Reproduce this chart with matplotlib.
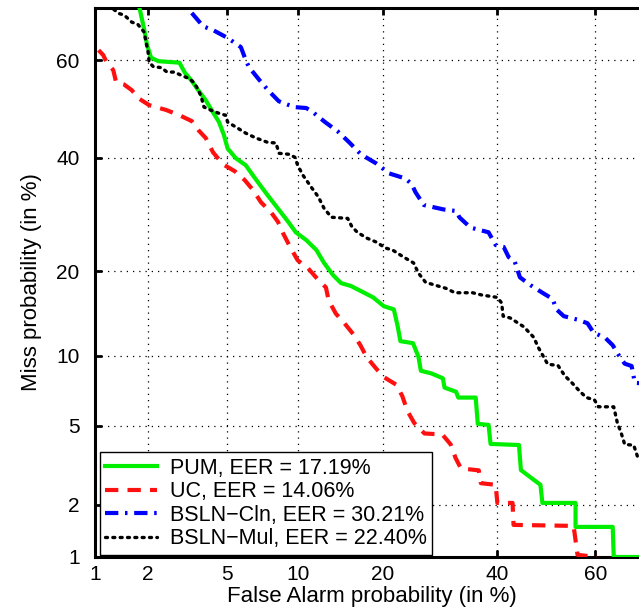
import math
import numpy as np
import matplotlib
matplotlib.use("Agg")
import matplotlib.pyplot as plt
from matplotlib.ticker import NullLocator

# ---------------- data (percent) ----------------
pum_far = [1.75, 1.8, 1.91, 1.98, 2.08, 2.28, 2.93, 3.12, 3.38, 3.65, 3.96, 4.29, 4.58, 4.83, 5.02,
           5.48, 6.07, 6.53, 7.07, 7.64, 8.42, 9.17, 9.83, 10.8, 11.8, 12.6, 13.6, 14.5, 15.7,
           17.2, 18.6, 20.1, 21.6, 22.2, 22.6, 24.6, 25.5, 25.9, 27.6, 29.7, 30.0, 32.1, 32.5,
           35.8, 36.2, 38.3, 38.7, 44.4, 44.8, 48.8, 49.2, 56.0, 56.0, 63.4, 63.6, 80.0]
pum_miss = [75.0, 70.0, 66.0, 63.0, 60.5, 59.8, 59.5, 57.5, 55.8, 53.8, 51.8, 49.3, 47.3, 44.6, 41.9,
            39.9, 38.5, 36.5, 34.4, 32.4, 30.0, 27.9, 26.1, 24.8, 23.2, 21.2, 19.4, 18.3, 17.9,
            17.1, 16.4, 15.3, 14.9, 12.9, 11.4, 11.2, 9.9, 8.7, 8.5, 8.1, 7.4, 7.1, 6.7,
            6.7, 5.1, 5.05, 4.1, 4.05, 3.04, 2.55, 2.04, 2.04, 1.5, 1.5, 1.0, 1.0]

uc_far = [1.05, 1.12, 1.17, 1.28, 1.33, 1.47, 1.63, 1.78, 2.03, 2.5, 2.93, 3.38, 3.65, 3.96, 4.29,
          4.78, 5.43, 6.0, 6.53, 7.07, 7.79, 8.33, 8.75, 9.33, 10.0, 10.98, 11.76, 12.8, 13.1,
          13.9, 14.9, 16.0, 16.9, 17.7, 19.0, 20.1, 22.0, 22.9, 23.7, 24.8, 26.5, 29.6, 31.1,
          32.0, 33.0, 36.4, 36.8, 39.7, 40.05, 43.1, 43.3, 55.6, 56.4, 60.3]
uc_miss = [62.0, 61.0, 59.6, 58.0, 55.5, 55.1, 53.9, 52.2, 50.8, 49.8, 48.7, 47.5, 45.6, 44.0, 41.1,
           38.7, 37.3, 35.6, 33.7, 31.4, 29.6, 27.9, 25.9, 23.7, 21.6, 20.4, 19.1, 17.7, 16.0,
           14.4, 13.3, 12.1, 11.0, 9.9, 8.9, 8.2, 7.6, 6.8, 5.85, 5.15, 4.6, 4.55, 4.08,
           3.5, 3.1, 3.03, 2.6, 2.55, 2.04, 2.04, 1.54, 1.52, 1.03, 1.0]

cln_far = [3.38, 3.85, 4.29, 5.02, 5.77, 6.07, 6.27, 6.87, 7.57, 8.4, 9.67, 10.8, 11.47, 12.7, 14.1,
           15.5, 16.96, 19.0, 20.9, 23.4, 24.4, 25.0, 26.4, 29.8, 32.2, 32.7, 34.8, 38.3, 39.7,
           41.3, 42.3, 43.5, 44.6, 46.8, 49.2, 51.3, 52.1, 53.6, 56.4, 58.4, 59.6, 62.0, 63.4,
           64.5, 65.7, 67.0, 67.6, 69.6, 80.0]
cln_miss = [69.1, 66.6, 65.9, 64.4, 62.6, 60.0, 58.6, 56.3, 53.9, 51.6, 50.4, 50.2, 49.3, 47.3, 45.4,
            43.1, 40.7, 38.9, 36.9, 35.9, 34.8, 33.3, 30.9, 30.1, 29.8, 28.7, 26.9, 26.1, 24.0,
            23.7, 22.1, 21.5, 19.1, 18.0, 17.0, 16.2, 14.9, 14.1, 13.7, 13.3, 12.3, 11.7, 11.0,
            10.1, 9.3, 9.1, 7.75, 7.7, 7.6]

mul_far = [1.1, 1.17, 1.27, 1.38, 1.48, 1.63, 1.76, 1.91, 1.96, 2.0, 2.03, 2.14, 2.36, 2.53, 2.77,
           2.97, 3.27, 3.46, 3.65, 3.77, 3.88, 4.19, 4.58, 4.92, 5.02, 5.6, 6.07, 6.73, 7.57,
           8.17, 8.42, 9.25, 9.75, 10.0, 10.5, 11.3, 12.0, 12.6, 13.4, 15.3, 15.8, 16.5, 17.8,
           19.0, 20.4, 21.4, 23.1, 24.7, 25.5, 26.7, 28.4, 30.2, 31.9, 35.2, 37.0, 40.0, 40.9,
           41.2, 42.6, 45.4, 47.4, 48.4, 50.3, 52.4, 53.8, 55.4, 56.8, 58.2, 59.8, 60.6, 63.6,
           64.3, 65.0, 65.7, 67.4, 68.1, 70.0, 80.0]
mul_miss = [71.0, 70.0, 69.9, 69.0, 68.7, 67.4, 67.0, 65.5, 63.3, 62.0, 59.6, 58.7, 58.5, 57.6, 57.6,
            57.0, 56.3, 55.5, 53.9, 52.4, 50.4, 49.75, 49.1, 48.7, 47.3, 46.0, 45.0, 44.0, 43.1,
            43.0, 40.9, 40.7, 40.1, 38.5, 36.5, 34.2, 32.4, 30.3, 28.7, 28.5, 27.1, 26.1, 25.1,
            24.5, 23.5, 23.2, 22.1, 21.2, 19.7, 18.4, 18.0, 17.6, 17.0, 17.0, 16.7, 16.4, 15.7,
            14.1, 13.9, 12.9, 11.8, 10.75, 9.25, 9.15, 8.3, 7.7, 7.15, 6.7, 6.55, 6.1, 6.1,
            5.15, 4.65, 4.08, 4.04, 3.55, 3.2, 2.8]

tick_vals = [1, 2, 5, 10, 20, 40, 60]
tick_labels = ["1", "2", "5", "10", "20", "40", "60"]
legend_labels = ["PUM, EER = 17.19%", "UC, EER = 14.06%",
                 "BSLN\u2212Cln, EER = 30.21%", "BSLN\u2212Mul, EER = 22.40%"]

# ---------------- probit scale ----------------
_a = [-3.969683028665376e+01, 2.209460984245205e+02, -2.759285104469687e+02,
      1.383577518672690e+02, -3.066479806614716e+01, 2.506628277459239e+00]
_b = [-5.447609879822406e+01, 1.615858368580409e+02, -1.556989798598866e+02,
      6.680131188771972e+01, -1.328068155288572e+01]
_c = [-7.784894002430293e-03, -3.223964580411365e-01, -2.400758277161838e+00,
      -2.549671348416250e+00, 4.374664141464968e+00, 2.938163982698783e+00]
_d = [7.784695709041462e-03, 3.224671290700398e-01, 2.445134137142996e+00,
      3.754408661907416e+00]


def _ppf(p):
    p = np.clip(np.asarray(p, dtype=float), 1e-12, 1 - 1e-12)
    plow = 0.02425
    q = p - 0.5
    r = q * q
    central = (((((_a[0]*r+_a[1])*r+_a[2])*r+_a[3])*r+_a[4])*r+_a[5])*q / \
              (((((_b[0]*r+_b[1])*r+_b[2])*r+_b[3])*r+_b[4])*r+1)
    ql = np.sqrt(-2*np.log(p))
    low = (((((_c[0]*ql+_c[1])*ql+_c[2])*ql+_c[3])*ql+_c[4])*ql+_c[5]) / \
          ((((_d[0]*ql+_d[1])*ql+_d[2])*ql+_d[3])*ql+1)
    qh = np.sqrt(-2*np.log(1-p))
    high = -(((((_c[0]*qh+_c[1])*qh+_c[2])*qh+_c[3])*qh+_c[4])*qh+_c[5]) / \
           ((((_d[0]*qh+_d[1])*qh+_d[2])*qh+_d[3])*qh+1)
    return np.where(p < plow, low, np.where(p > 1 - plow, high, central))


_erf = np.vectorize(math.erf, otypes=[float])


def fwd(pct):
    return _ppf(np.asarray(pct, dtype=float) / 100.0)


def inv(u):
    u = np.asarray(u, dtype=float)
    return 100.0 * 0.5 * (1.0 + _erf(u / math.sqrt(2.0)))


plt.rcParams['font.family'] = ['Liberation Sans', 'DejaVu Sans']

fig = plt.figure(figsize=(6.39, 6.13), dpi=100)
ax = fig.add_axes([95/639, 56/613, 553/639, 549/613])
ax.set_xscale('function', functions=(fwd, inv))
ax.set_yscale('function', functions=(fwd, inv))
ax.set_xlim(1, 70)
ax.set_ylim(1, 70)

l1, = ax.plot(pum_far, pum_miss, color='#00ee00', lw=3, zorder=4)
l2, = ax.plot(uc_far, uc_miss, color='#ff1010', lw=3, ls=(0, (3.2, 2.2)), zorder=4)
l3, = ax.plot(cln_far, cln_miss, color='#0000ff', lw=3, ls=(0, (3.2, 1.6, 0.6, 1.6)), zorder=4)
l4, = ax.plot(mul_far, mul_miss, color='black', lw=2.4, ls=(0, (0.6, 1.6)),
              dash_capstyle='round', zorder=4)

ax.set_xticks(tick_vals)
ax.set_xticklabels(tick_labels)
ax.set_yticks(tick_vals)
ax.set_yticklabels(tick_labels)
ax.xaxis.set_minor_locator(NullLocator())
ax.yaxis.set_minor_locator(NullLocator())
ax.tick_params(direction='in', length=5, width=2, labelsize=15,
               top=True, right=True)
ax.tick_params(axis='x', pad=6)
ax.tick_params(axis='y', pad=11)
ax.grid(True, color='black', linestyle=(0, (1, 4)), linewidth=0.9)
for s in ax.spines.values():
    s.set_linewidth(2.2)

ax.set_xlabel("False Alarm probability (in %)", fontsize=16, labelpad=1)
ax.set_ylabel("Miss probability (in %)", fontsize=16, labelpad=10)

leg = ax.legend([l1, l2, l3, l4], legend_labels, loc='lower left',
                bbox_to_anchor=(0.009, 0.004), borderaxespad=0, fontsize=15.5,
                fancybox=False, framealpha=1, edgecolor='black',
                handlelength=2.4, handletextpad=0.6, labelspacing=0.12,
                borderpad=0.25)
leg.get_frame().set_linewidth(1.0)
leg.set_zorder(5)

fig.savefig("out.png", dpi=100)
